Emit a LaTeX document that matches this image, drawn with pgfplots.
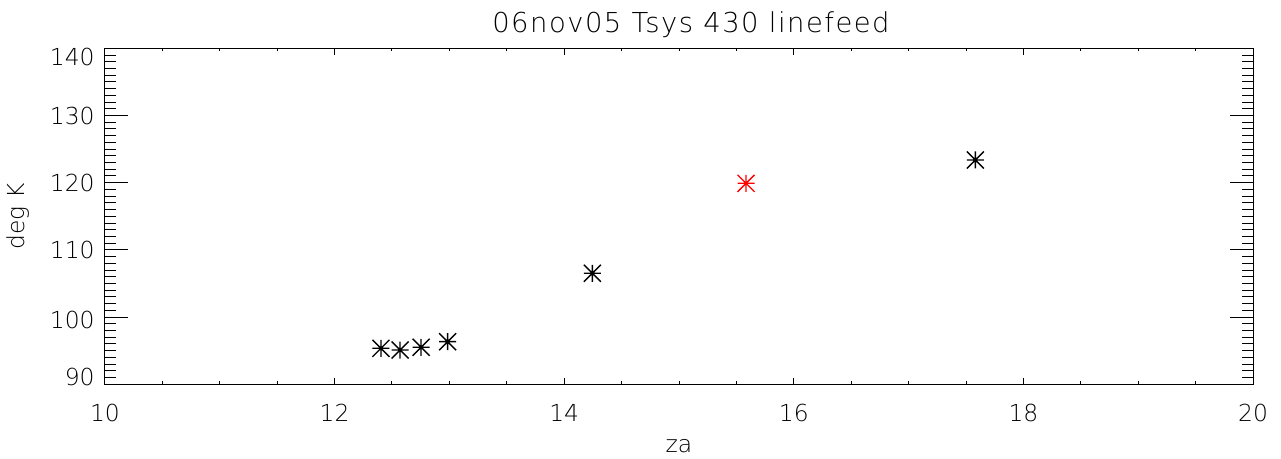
\documentclass[border=0pt]{standalone}
\usepackage{fontspec}
\setmainfont{DejaVu Sans ExtraLight}
\usepackage{pgfplots}
\pgfplotsset{compat=1.18}

% IDL psym=2 star: a plus and a cross on top of each other
\pgfdeclareplotmark{idlstar}{%
  \pgfpathmoveto{\pgfqpoint{-\pgfplotmarksize}{0pt}}%
  \pgfpathlineto{\pgfqpoint{\pgfplotmarksize}{0pt}}%
  \pgfpathmoveto{\pgfqpoint{0pt}{-\pgfplotmarksize}}%
  \pgfpathlineto{\pgfqpoint{0pt}{\pgfplotmarksize}}%
  \pgfpathmoveto{\pgfqpoint{-\pgfplotmarksize}{-\pgfplotmarksize}}%
  \pgfpathlineto{\pgfqpoint{\pgfplotmarksize}{\pgfplotmarksize}}%
  \pgfpathmoveto{\pgfqpoint{-\pgfplotmarksize}{\pgfplotmarksize}}%
  \pgfpathlineto{\pgfqpoint{\pgfplotmarksize}{-\pgfplotmarksize}}%
  \pgfusepathqstroke}

\begin{document}
\begin{tikzpicture}
\pgfplotsset{
  idlbox/.style={
    at={(0,0)}, anchor=south west,
    scale only axis, width=574pt, height=168pt,
    xmin=10, xmax=20, ymin=90, ymax=140,
    axis line style={line width=0.5pt},
    every tick/.style={black, line width=0.5pt},
    tick align=inside,
    /pgf/number format/assume math mode=true,
    tick label style={font=\fontsize{11.7}{14}\selectfont},
    label style={font=\fontsize{11.7}{14}\selectfont},
  }
}
% x ticks (short, as IDL scales tick length by the other side)
\begin{axis}[idlbox,
  ytick=\empty,
  xtick={10,12,...,20},
  minor x tick num=3,
  major tick length=3.15pt, minor tick length=1.5pt,
  xticklabel style={anchor=base, yshift=-18.7pt},
  xlabel={za},
  xlabel style={at={(axis description cs:0.5,-0.2024)}, anchor=base},
]
\end{axis}
% y ticks, title and data
\begin{axis}[idlbox,
  xtick=\empty,
  ytick={90,100,...,140},
  yticklabels={{\raisebox{3.8pt}[\height][\depth]{90}},
               {\raisebox{-1.3pt}[\height][\depth]{100}},
               {110},{120},{130},
               {\raisebox{-4.35pt}[\height][\depth]{140}}},
  minor y tick num=9,
  major tick length=11.5pt, minor tick length=5.5pt,
  yticklabel style={anchor=east, inner xsep=0pt, xshift=-5pt},
  ylabel={deg K},
  ylabel style={at={(axis description cs:-0.0697,0.5)}, anchor=base},
  title={06nov05 Tsys 430 linefeed},
  title style={at={(axis description cs:0.5,1)}, anchor=base,
    yshift=1.65pt, xshift=6pt,
    font=\fontsize{13.7}{16}\selectfont\addfontfeatures{LetterSpace=5.5}},
  mark size=4.25pt,
]
\addplot[only marks, mark=idlstar, black, line width=0.7pt] coordinates {
  (12.404,95.36)
  (12.570,95.10)
  (12.753,95.51)
  (12.985,96.34)
  (14.245,106.52)
  (17.581,123.38)
};
\addplot[only marks, mark=idlstar, red, line width=0.7pt] coordinates {
  (15.584,119.91)
};
\end{axis}
\pgfresetboundingbox
\path[use as bounding box] (-52.5pt,-37.35pt) rectangle (588pt,192.15pt);
\end{tikzpicture}
\end{document}
